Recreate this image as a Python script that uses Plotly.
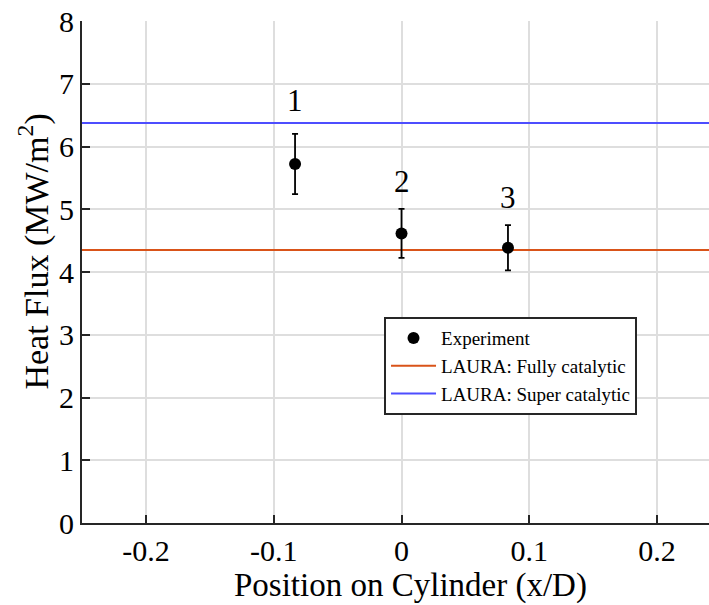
import plotly.graph_objects as go

# ---- data ----
exp_x = [-0.0833, 0.0, 0.0833]
exp_y = [5.72, 4.615, 4.386]
exp_err = [0.48, 0.39, 0.36]
point_labels = ["1", "2", "3"]
label_y = [6.73, 5.44, 5.19]

line_x = [-0.25, 0.25]
fully_cat = [4.35, 4.35]
super_cat = [6.375, 6.375]

x_tickvals = [-0.2, -0.1, 0.0, 0.1, 0.2]
x_ticktext = ["-0.2", "-0.1", "0", "0.1", "0.2"]
y_tickvals = [0, 1, 2, 3, 4, 5, 6, 7, 8]
y_ticktext = ["0", "1", "2", "3", "4", "5", "6", "7", "8"]

FONT = "Liberation Serif"
AXC = "#262626"
GRID = "#dedede"

fig = go.Figure()

fig.add_trace(go.Scatter(
    x=line_x, y=fully_cat, mode="lines", name="LAURA: Fully catalytic",
    line=dict(color="#D95319", width=2), legendrank=2))
fig.add_trace(go.Scatter(
    x=line_x, y=super_cat, mode="lines", name="LAURA: Super catalytic",
    line=dict(color="#4D4DFF", width=2), legendrank=3))
fig.add_trace(go.Scatter(
    x=exp_x, y=exp_y, mode="markers", name="Experiment",
    marker=dict(color="black", size=12),
    error_y=dict(type="data", array=exp_err, visible=True, color="black",
                 thickness=1.8, width=3),
    legendrank=1))

for xv, yv, t in zip(exp_x, label_y, point_labels):
    fig.add_annotation(x=xv, y=yv, text=t, showarrow=False,
                       font=dict(family=FONT, size=31, color="black"),
                       xanchor="center", yanchor="middle")

fig.add_annotation(xref="paper", yref="paper", x=0.5247, y=-0.1242,
                   text="Position on Cylinder (x/D)", showarrow=False,
                   font=dict(family=FONT, size=33, color="black"),
                   xanchor="center", yanchor="middle")
fig.add_annotation(xref="paper", yref="paper", x=-0.0766, y=0.5406,
                   text="Heat Flux (MW/m<sup>2</sup>)", showarrow=False,
                   textangle=-90,
                   font=dict(family=FONT, size=34, color="black"),
                   xanchor="center", yanchor="middle")

fig.update_layout(
    width=709, height=605,
    margin=dict(l=82, r=0, t=21, b=82),
    paper_bgcolor="white", plot_bgcolor="white",
    font=dict(family=FONT, color="black"),
    showlegend=True,
    legend=dict(x=0.4817, y=0.41, xanchor="left", yanchor="top",
                bgcolor="white", bordercolor=AXC, borderwidth=2,
                font=dict(family=FONT, size=19, color="black"),
                itemwidth=45, tracegroupgap=0),
    xaxis=dict(range=[-0.25, 0.2406], tickvals=x_tickvals, ticktext=x_ticktext,
               showgrid=True, gridcolor=GRID, gridwidth=1.5,
               zeroline=False, showline=True, linecolor=AXC, linewidth=2,
               ticks="inside", ticklen=8, tickwidth=2, tickcolor=AXC,
               tickfont=dict(family=FONT, size=30, color="black")),
    yaxis=dict(range=[0, 8], tickvals=y_tickvals, ticktext=y_ticktext,
               showgrid=True, gridcolor=GRID, gridwidth=1.5,
               zeroline=False, showline=True, linecolor=AXC, linewidth=2,
               ticks="inside", ticklen=8, tickwidth=2, tickcolor=AXC,
               tickfont=dict(family=FONT, size=30, color="black")),
)

fig.write_html("out.html")
